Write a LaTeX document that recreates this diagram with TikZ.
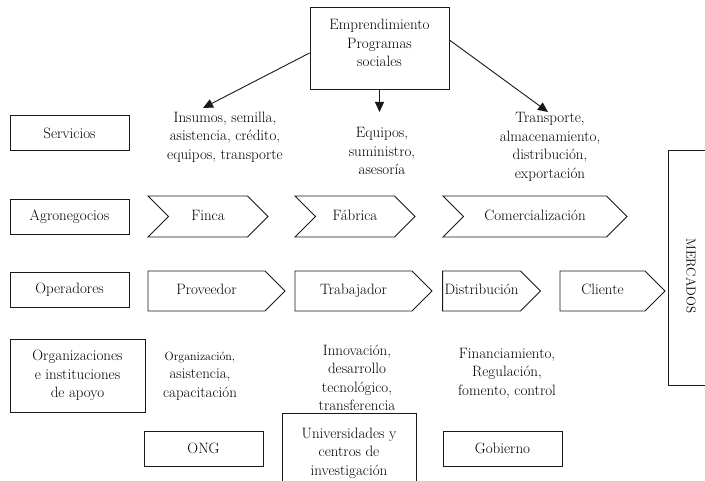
\documentclass[tikz,border=0pt]{standalone}
\usepackage{tikz}
\usetikzlibrary{positioning,shapes.symbols,arrows.meta}
\tikzset{
  base/.style={font=\fontsize{15}{18.5}\selectfont, align=center},
  lbox/.style={base, draw=black!90, line width=0.9pt, minimum width=119pt, minimum height=35pt, inner sep=2pt},
  chev/.style={base, draw=black!90, line width=0.9pt, shape=signal, signal from=west, signal to=east, minimum height=41pt, inner sep=2pt, text height=10.5pt, text depth=3pt},
  pent/.style={base, draw=black!90, line width=0.9pt, shape=signal, signal to=east, minimum height=40pt, inner sep=2pt, text height=10.5pt, text depth=3pt},
  lbl/.style={base},
  arr/.style={draw=black!90, line width=0.9pt, -{Triangle[length=10pt,width=9pt]}}
}
\begin{document}
\begin{tikzpicture}[x=1pt,y=-1pt]
	\clip (0,0) rectangle (705,481);
	\node[lbox, minimum width=139pt, minimum height=82pt] (prog) at (379.5,48) {};
	\node[lbl] (progtxt) at (379.5,43) {Emprendimiento\\Programas\\sociales};
	\node[lbox] (servicios) at (69.5,133) {Servicios};
	\node[lbox] (agro) at (69.5,217) {Agronegocios};
	\node[lbox] (operadores) at (69.5,289.5) {Operadores};
	\node[lbox, minimum width=135pt, minimum height=73pt] (organizaciones) at (77.5,375.5) {Organizaciones\\e instituciones\\de apoyo};
	\node[lbl] (insumos) at (225,137) {Insumos, semilla,\\asistencia, crédito,\\equipos, transporte};
	\node[lbl] (equipos) at (382,151) {Equipos,\\suministro,\\asesoría};
	\node[lbl] (transporte) at (550,147) {Transporte,\\almacenamiento,\\distribución,\\exportación};
	\node[chev, minimum width=120pt] (finca) at (208,216.5) {Finca};
	\node[chev, minimum width=120pt] (fabrica) at (355,216.5) {Fábrica};
	\node[chev, minimum width=184pt] (comerc) at (535,216.5) {Comercialización};
	\node[pent, minimum width=137pt] (proveedor) at (206.5,291) {Proveedor};
	\node[pent, minimum width=137pt] (trabajador) at (353.5,291) {Trabajador};
	\node[pent, minimum width=97pt] (distribucion) at (481.5,291) {Distribución};
	\node[pent, minimum width=105pt] (cliente) at (602.5,291) {Cliente};
	\node[lbox, minimum width=60pt, minimum height=235pt] (mercados) at (698,267.5) {};
	\node[lbl, font=\fontsize{13}{16}\selectfont, rotate=-90] (mercadostxt) at (691,276) {MERCADOS};
	\node[lbl] (orgtxt) at (200,376) {{\fontsize{12}{14}\selectfont Organización,}\\asistencia,\\capacitación};
	\node[lbl] (innovacion) at (357,378) {Innovación,\\desarrollo\\tecnológico,\\transferencia};
	\node[lbl] (financ) at (507,373) {Financiamiento,\\Regulación,\\fomento, control};
	\node[lbox] (ong) at (203.5,448.5) {ONG};
	\node[lbox, minimum width=134pt, minimum height=80pt] (univ) at (349,453) {Universidades y\\centros de\\investigación};
	\node[lbox] (gobierno) at (502.5,448.5) {Gobierno};
	\coordinate (a1) at (203,108);
	\coordinate (a2) at (379.5,112);
	\coordinate (a3) at (548,112);
	\draw[arr] ([yshift=-5pt]prog.west) -- (a1);
	\draw[arr] (prog.south) -- (a2);
	\draw[arr] ([yshift=8pt]prog.east) -- (a3);
\end{tikzpicture}
\end{document}
